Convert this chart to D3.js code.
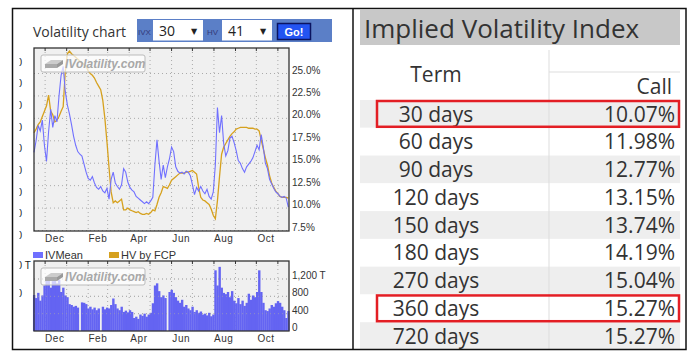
<!DOCTYPE html>
<html>
<head>
<meta charset="utf-8">
<script src="https://cdn.jsdelivr.net/npm/d3@7"></script>
<style>
  body { margin: 0; background: #fff; }
  svg { display: block; }
</style>
</head>
<body>
<div id="chart"></div>
<script>
/* IV / HV chart + implied volatility index table */

// one sample every 3 calendar days starting here
var startDate = "2016-11-15";
var stepDays = 3;

var ivMean = [16.2, 17.5, 19.2, 18.6, 19.8, 17.0, 15.2, 18.5, 21.0, 19.0, 20.3, 19.6, 22.5, 24.8, 25.8, 23.0,
  21.5, 20.5, 19.3, 18.0, 17.0, 16.3, 16.0, 15.8, 14.9, 14.0, 13.3, 13.1, 13.5, 12.8, 12.3, 12.1,
  12.4, 11.9, 11.7, 12.2, 11.0, 13.2, 14.0, 12.8, 12.4, 12.1, 12.6, 14.4, 14.0, 12.9, 12.3, 12.0,
  11.8, 11.3, 11.1, 10.9, 10.7, 10.5, 10.7, 10.5, 10.8, 11.2, 14.8, 17.6, 15.2, 13.2, 14.8, 13.4,
  14.6, 15.5, 16.8, 16.3, 14.6, 14.1, 13.9, 14.0, 13.8, 14.1, 14.0, 13.6, 12.6, 11.5, 12.3, 11.9,
  12.4, 11.9, 11.6, 12.1, 11.3, 11.0, 11.8, 14.8, 21.2, 18.4, 20.3, 17.2, 15.8, 16.4, 17.8, 18.0,
  17.3, 16.4, 15.3, 15.0, 14.4, 14.0, 14.6, 14.9, 15.2, 15.6, 16.3, 17.0, 16.5, 18.2, 16.8, 15.0,
  14.4, 13.2, 12.7, 12.2, 11.8, 11.6, 11.3, 11.2, 11.3, 11.1, 10.1];

var hvFcp = [18.4, 18.8, 19.3, 19.6, 20.2, 20.8, 21.4, 22.6, 20.8, 20.4, 19.6, 19.8, 20.2, 20.8, 21.3, 25.2,
  27.2, 27.5, 27.2, 27.0, 26.8, 26.6, 26.4, 26.2, 26.0, 25.8, 25.3, 25.0, 24.8, 24.5, 24.0, 23.6,
  23.2, 22.0, 20.0, 17.4, 14.5, 11.8, 10.6, 10.8, 10.6, 10.8, 11.0, 9.8, 9.8, 10.0, 9.8, 9.7,
  9.6, 9.5, 9.6, 9.4, 9.3, 9.3, 9.4, 9.3, 9.5, 9.8, 9.7, 10.4, 11.2, 11.7, 12.4, 12.3,
  12.2, 12.6, 13.1, 13.3, 13.5, 13.7, 13.9, 13.9, 13.9, 14.0, 14.0, 14.1, 14.2, 14.0, 13.8, 12.3,
  11.2, 10.9, 10.8, 10.6, 10.4, 9.9, 9.2, 8.8, 10.8, 13.5, 16.0, 16.8, 17.2, 17.6, 18.0, 18.3,
  18.5, 18.8, 18.9, 19.0, 19.0, 19.0, 19.0, 18.9, 18.9, 18.9, 18.8, 18.8, 18.6, 17.6, 16.6, 15.6,
  14.8, 13.6, 12.8, 12.3, 11.9, 11.6, 11.3, 11.2, 11.2, 11.2, 11.1];

// volume, thousands
var volume = [830, 760, 880, 700, 820, 1050, 1200, 1250, 1000, 1150, 1260, 1100, 1180, 900, 1000, 820,
  780, 620, 600, 560, 580, 540, 0, 660, 650, 620, 520, 560, 500, 540, 480, 520,
  0, 560, 500, 540, 520, 600, 750, 620, 520, 480, 560, 440, 470, 430, 480, 440,
  300, 330, 280, 380, 350, 400, 330, 380, 420, 640, 1050, 1100, 920, 780, 820, 760,
  0, 900, 950, 880, 780, 700, 650, 720, 560, 600, 520, 480, 560, 440, 480, 420,
  450, 380, 400, 360, 420, 340, 380, 1400, 1050, 1480, 1000, 880, 850, 900, 780, 920,
  700, 640, 760, 620, 700, 580, 650, 860, 720, 820, 780, 900, 1400, 900, 650, 480,
  460, 520, 600, 560, 640, 690, 650, 560, 480, 300, 460];

var pctTicks = [7.5, 10, 12.5, 15, 17.5, 20, 22.5, 25];
var volTicks = [0, 400, 800, 1200];
var legendNames = ["IVMean", "HV by FCP"];

var terms = ["30 days", "60 days", "90 days", "120 days", "150 days", "180 days", "270 days", "360 days", "720 days"];
var callIV = [10.07, 11.98, 12.77, 13.15, 13.74, 14.19, 15.04, 15.27, 15.27];
var highlightTerms = ["30 days", "360 days"];

var ivColor = "#7070ff", hvColor = "#d6a11e", barColor = "#6464f2";

function draw() {
  var width = 691, height = 362;
  var svg = d3.select("#chart").append("svg")
    .attr("width", width).attr("height", height);

  var t0 = d3.timeParse("%Y-%m-%d")(startDate);
  var dates = ivMean.map((d, i) => d3.timeDay.offset(t0, i * stepDays));
  var tEnd = d3.timeDay.offset(t0, (ivMean.length - 1) * stepDays + 1);

  var x = d3.scaleTime().domain([t0, tEnd]).range([34, 289]);
  var y = d3.scaleLinear().domain([7.5, 25]).range([230.5, 73.5]);
  var yv = d3.scaleLinear().domain([0, 1200]).range([331, 279]);

  var main = { top: 48, bottom: 231 }, vol = { top: 261, bottom: 331 };
  var months = d3.timeMonth.range(d3.timeMonth.ceil(t0), tEnd);
  var labelMonths = months.filter(d => d.getMonth() % 2 == 1 || d.getMonth() == 11)
    .filter(d => [11, 1, 3, 5, 7, 9].includes(d.getMonth()))
    .map(d => d3.timeDay.offset(d, 14));

  // ---- left panel header
  svg.append("text").attr("x", 33).attr("y", 36.5)
    .attr("font-family", "Open Sans").attr("font-size", 14).attr("fill", "#333")
    .text("Volatility chart");
  svg.append("rect").attr("x", 137).attr("y", 19).attr("width", 195).attr("height", 23).attr("fill", "#5b7fc7");
  [["IVX", "30", 138, 153], ["HV", "41", 207, 222]].forEach(s => {
    svg.append("text").attr("x", s[2]).attr("y", 34.5).attr("font-family", "Liberation Sans")
      .attr("font-size", 8).attr("fill", "#33397a").text(s[0]);
    svg.append("rect").attr("x", s[3]).attr("y", 20).attr("width", 50).attr("height", 20.5).attr("fill", "#fff");
    svg.append("text").attr("x", s[3] + 6).attr("y", 36).attr("font-family", "Open Sans")
      .attr("font-size", 14).attr("fill", "#222").text(s[1]);
    svg.append("text").attr("x", s[3] + 38).attr("y", 34).attr("font-family", "DejaVu Sans")
      .attr("font-size", 8).attr("fill", "#222").text("\u25BC");
  });
  svg.append("rect").attr("x", 277.5).attr("y", 23.5).attr("width", 33).attr("height", 16)
    .attr("fill", "#2354f2").attr("stroke", "#0b1460").attr("stroke-width", 1.5);
  svg.append("text").attr("x", 294).attr("y", 35.5).attr("text-anchor", "middle")
    .attr("font-family", "Liberation Sans").attr("font-weight", "bold").attr("font-size", 11)
    .attr("fill", "#fff").text("Go!");

  function panel(box, ys, ticks, fmt) {
    var g = svg.append("g");
    g.append("rect").attr("x", 34).attr("y", box.top).attr("width", 255)
      .attr("height", box.bottom - box.top).attr("fill", "#f0f0f0");
    g.selectAll(".vg").data(months).join("line")
      .attr("x1", d => x(d)).attr("x2", d => x(d))
      .attr("y1", box.top).attr("y2", box.bottom)
      .attr("stroke", "#aaa").attr("stroke-dasharray", "1,3");
    g.selectAll(".hg").data(ticks).join("line")
      .attr("x1", 34).attr("x2", 289)
      .attr("y1", d => ys(d)).attr("y2", d => ys(d))
      .attr("stroke", "#aaa").attr("stroke-dasharray", "1,3");
    g.selectAll(".tk").data(months).join("line")
      .attr("x1", d => x(d)).attr("x2", d => x(d))
      .attr("y1", box.top).attr("y2", box.top + 3)
      .attr("stroke", "#333");
    g.selectAll(".yl").data(ticks).join("text")
      .attr("x", 292).attr("y", d => ys(d))
      .attr("font-family", "Liberation Sans").attr("font-size", 10).attr("fill", "#333")
      .text(fmt);
    g.selectAll(".ml").data(labelMonths).join("text")
      .attr("x", d => x(d)).attr("y", box.bottom + 11).attr("text-anchor", "middle")
      .attr("font-family", "Liberation Sans").attr("font-size", 10).attr("fill", "#333")
      .attr("letter-spacing", 0.6)
      .text(d3.timeFormat("%b"));
    return g;
  }

  // ---- main chart
  var gm = panel(main, y, pctTicks, d => d3.format(".1f")(d) + "%");
  var line = d3.line().x((d, i) => x(dates[i])).y(d => y(d));
  gm.append("path").datum(hvFcp).attr("d", line).attr("fill", "none")
    .attr("stroke", hvColor).attr("stroke-width", 1.3);
  gm.append("path").datum(ivMean).attr("d", line).attr("fill", "none")
    .attr("stroke", ivColor).attr("stroke-width", 1.1);

  // ---- volume chart
  var gv = panel(vol, yv, volTicks.slice(1), d => d == 1200 ? "1,200 T" : d3.format(",")(d));
  gv.append("text").attr("x", 292).attr("y", yv(0)).attr("font-family", "Liberation Sans")
    .attr("font-size", 10).attr("fill", "#333").text("0");
  var bw = x(dates[1]) - x(dates[0]);
  gv.append("g").selectAll("rect").data(volume).join("rect")
    .attr("x", (d, i) => x(dates[i]) - bw / 2)
    .attr("width", bw + 0.3)
    .attr("y", d => yv(d))
    .attr("height", d => yv(0) - yv(d))
    .attr("fill", barColor);
  // redraw dotted grid above bars
  gv.selectAll(".hg2").data(volTicks.slice(1)).join("line")
    .attr("x1", 34).attr("x2", 289)
    .attr("y1", d => yv(d)).attr("y2", d => yv(d))
    .attr("stroke", "#aaa").attr("stroke-dasharray", "1,3").attr("opacity", 0.6);

  // frames
  [main, vol].forEach(b => {
    svg.append("rect").attr("x", 34).attr("y", b.top).attr("width", 255)
      .attr("height", b.bottom - b.top).attr("fill", "none").attr("stroke", "#333").attr("stroke-width", 1.3);
  });

  // watermark
  [main.top + 7, vol.top + 7].forEach(ty => {
    var w = svg.append("g").attr("transform", `translate(41,${ty})`);
    w.append("rect").attr("width", 104).attr("height", 17).attr("rx", 2)
      .attr("fill", "#fff").attr("fill-opacity", 0.7).attr("stroke", "#bbb");
    w.append("path").attr("d", "M4,9 L10,5 L22,5 L16,9 Z").attr("fill", "#ccc");
    w.append("path").attr("d", "M4,9 L16,9 L16,13 L4,13 Z").attr("fill", "#aaa");
    w.append("path").attr("d", "M16,9 L22,5 L22,9 L16,13 Z").attr("fill", "#999");
    w.append("text").attr("x", 24).attr("y", 13).attr("font-family", "Liberation Sans")
      .attr("font-style", "italic").attr("font-weight", "bold").attr("font-size", 12)
      .attr("fill", "#a8a8a8").text("IVolatility.com");
  });

  // legend
  var lg = svg.append("g").attr("font-family", "Liberation Sans").attr("font-size", 11).attr("fill", "#333");
  [[33, ivColor], [109, hvColor]].forEach((l, i) => {
    lg.append("rect").attr("x", l[0]).attr("y", 252).attr("width", 10).attr("height", 6).attr("fill", l[1]);
    lg.append("text").attr("x", l[0] + 12).attr("y", 259).text(legendNames[i]);
  });

  // cut-off labels of a left axis
  svg.append("clipPath").attr("id", "cut").append("rect")
    .attr("x", 19.5).attr("y", 0).attr("width", 20).attr("height", 362);
  var cut = svg.append("g").attr("clip-path", "url(#cut)")
    .attr("font-family", "Liberation Sans").attr("font-size", 10).attr("fill", "#222");
  cut.selectAll("text").data(d3.range(9)).join("text")
    .attr("x", 16.5).attr("y", d => 65.5 + d * 21.7).text("0");
  cut.append("text").attr("x", 16.5).attr("y", 269).text("0 T");
  cut.append("text").attr("x", 16.5).attr("y", 296.5).text("0");

  // ---- table
  var tf = "Open Sans";
  svg.append("rect").attr("x", 360).attr("y", 10).attr("width", 320).attr("height", 35).attr("fill", "#c8c8c8");
  svg.append("text").attr("x", 364).attr("y", 38).attr("font-family", tf).attr("font-size", 26)
    .attr("fill", "#333").text("Implied Volatility Index");

  var rowY = d3.scaleBand().domain(terms).range([100, 350]);
  svg.append("g").selectAll("rect").data(terms).join("rect")
    .attr("x", 360).attr("width", 320)
    .attr("y", d => rowY(d)).attr("height", rowY.bandwidth())
    .attr("fill", (d, i) => i % 2 == 0 ? "#eeeeee" : "#fff");
  svg.append("line").attr("x1", 549).attr("x2", 549).attr("y1", 50).attr("y2", 350).attr("stroke", "#ddd");
  svg.append("line").attr("x1", 549).attr("x2", 680).attr("y1", 72).attr("y2", 72).attr("stroke", "#ddd");

  svg.append("text").attr("x", 436).attr("y", 82).attr("text-anchor", "middle")
    .attr("font-family", tf).attr("font-size", 21).attr("fill", "#333").text("Term");
  svg.append("text").attr("x", 672).attr("y", 93.5).attr("text-anchor", "end")
    .attr("font-family", tf).attr("font-size", 21).attr("fill", "#333").text("Call");

  var rows = svg.append("g").attr("font-family", tf).attr("font-size", 21).attr("fill", "#333");
  rows.selectAll(".term").data(terms).join("text")
    .attr("x", 436).attr("y", d => rowY(d) + 21.5).attr("text-anchor", "middle").text(d => d);
  rows.selectAll(".val").data(callIV).join("text")
    .attr("x", 675).attr("y", (d, i) => rowY(terms[i]) + 21.5).attr("text-anchor", "end")
    .text(d => d3.format(".2f")(d) + "%");

  svg.append("g").selectAll("rect").data(highlightTerms).join("rect")
    .attr("x", 377).attr("width", 302)
    .attr("y", d => rowY(d) + 1).attr("height", rowY.bandwidth() - 2)
    .attr("fill", "none").attr("stroke", "#e31e24").attr("stroke-width", 2.5);

  // outer frame + divider
  svg.append("rect").attr("x", 12.5).attr("y", 8.5).attr("width", 673.5).attr("height", 341)
    .attr("fill", "none").attr("stroke", "#111").attr("stroke-width", 1.5);
  svg.append("line").attr("x1", 353).attr("x2", 353).attr("y1", 8).attr("y2", 350)
    .attr("stroke", "#111").attr("stroke-width", 1.5);
}

draw();
</script>
</body>
</html>
